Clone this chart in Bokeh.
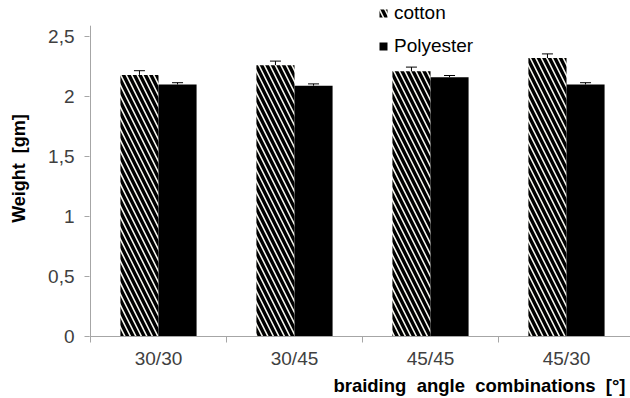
from bokeh.plotting import figure
from bokeh.models import (ColumnDataSource, FixedTicker, Range1d, Whisker, TeeHead,
                          Legend, LegendItem, Title)
from bokeh.embed import file_html
from bokeh.resources import INLINE

# braiding angle combinations and measured weights [gm]
categories = ["30/30", "30/45", "45/45", "45/30"]
cotton = [2.18, 2.26, 2.21, 2.32]
cotton_err = [0.035, 0.035, 0.035, 0.035]
polyester = [2.10, 2.09, 2.16, 2.10]
polyester_err = [0.015, 0.015, 0.015, 0.015]
y_ticks = [0, 0.5, 1, 1.5, 2, 2.5]
y_tick_labels = ["0", "0,5", "1", "1,5", "2", "2,5"]

FONT = "Liberation Sans"
AXIS_GREY = "#a6a6a6"
BAR_W = 0.28
Y_AXIS_TOP = 2.59
PX_PER_CAT = 136

pos = list(range(1, len(categories) + 1))
x_cot = [p - BAR_W / 2 for p in pos]
x_pol = [p + BAR_W / 2 for p in pos]

src_c = ColumnDataSource(dict(x=x_cot, top=cotton,
                              up=[v + e for v, e in zip(cotton, cotton_err)]))
src_p = ColumnDataSource(dict(x=x_pol, top=polyester,
                              up=[v + e for v, e in zip(polyester, polyester_err)]))

x0 = 0.5 - 1 / PX_PER_CAT
p = figure(width=630, height=398, output_backend="svg", toolbar_location=None,
           x_range=Range1d(x0, x0 + 541 / PX_PER_CAT), y_range=Range1d(0, 336 / 120),
           min_border_left=89, min_border_right=0, min_border_top=0,
           min_border_bottom=62)
p.outline_line_color = None
p.xgrid.visible = False
p.ygrid.visible = False

r_c = p.vbar(x="x", top="top", width=BAR_W, source=src_c, fill_color="#f7f7ef",
             line_color=None, hatch_pattern="\\", hatch_color="black",
             hatch_weight=3.4, hatch_scale=11)
r_p = p.vbar(x="x", top="top", width=BAR_W, source=src_p, fill_color="black",
             line_color=None)

for src in (src_c, src_p):
    w = Whisker(base="x", upper="up", lower="top", source=src,
                upper_head=TeeHead(size=11, line_color="black", line_width=1),
                lower_head=None, line_color="black", line_width=1)
    p.add_layout(w)

# vertical axis line stops just above the top tick
p.segment(x0=[0.5], y0=[0], x1=[0.5], y1=[Y_AXIS_TOP], line_color=AXIS_GREY,
          line_width=1)

# y axis
p.yaxis.ticker = FixedTicker(ticks=y_ticks)
p.yaxis.major_label_overrides = dict(zip(y_ticks, y_tick_labels))
p.yaxis.axis_line_color = None
p.yaxis.minor_tick_line_color = None
p.yaxis.major_tick_out = 5
p.yaxis.major_tick_in = 0
p.yaxis.major_tick_line_color = AXIS_GREY
p.yaxis.major_label_text_font = FONT
p.yaxis.major_label_text_font_size = "19px"
p.yaxis.major_label_text_color = "#404040"
p.yaxis.major_label_standoff = 10
p.yaxis.axis_label = "Weight\u00a0 [gm]"
p.yaxis.axis_label_text_font = FONT
p.yaxis.axis_label_text_font_style = "bold"
p.yaxis.axis_label_text_font_size = "18px"
p.yaxis.axis_label_text_color = "black"
p.yaxis.axis_label_standoff = 16

# x axis: labels at category centres, tick marks between categories
p.xaxis.ticker = FixedTicker(ticks=pos, minor_ticks=[k + 0.5 for k in range(0, 5)])
p.xaxis.major_label_overrides = dict(zip(pos, categories))
p.xaxis.major_tick_out = 0
p.xaxis.major_tick_in = 0
p.xaxis.minor_tick_out = 6
p.xaxis.minor_tick_in = 0
p.xaxis.minor_tick_line_color = AXIS_GREY
p.xaxis.axis_line_color = AXIS_GREY
p.xaxis.major_label_text_font = FONT
p.xaxis.major_label_text_font_size = "19px"
p.xaxis.major_label_text_color = "#404040"
p.xaxis.major_label_standoff = 5

p.add_layout(Title(text="braiding\u00a0 angle\u00a0 combinations\u00a0 [°]", align="right",
                   text_font=FONT, text_font_size="18.5px", text_font_style="bold",
                   text_color="black", offset=5, standoff=3), "below")

legend = Legend(items=[LegendItem(label="cotton", renderers=[r_c]),
                       LegendItem(label="Polyester", renderers=[r_p])],
                location=(289, 279), orientation="vertical",
                glyph_width=10, glyph_height=10, label_height=20, spacing=11,
                padding=0, margin=0, label_standoff=6,
                label_text_font=FONT, label_text_font_size="19px",
                label_text_color="black",
                border_line_color=None, background_fill_alpha=0)
p.add_layout(legend, "center")

open("out.html", "w").write(file_html(p, INLINE))
